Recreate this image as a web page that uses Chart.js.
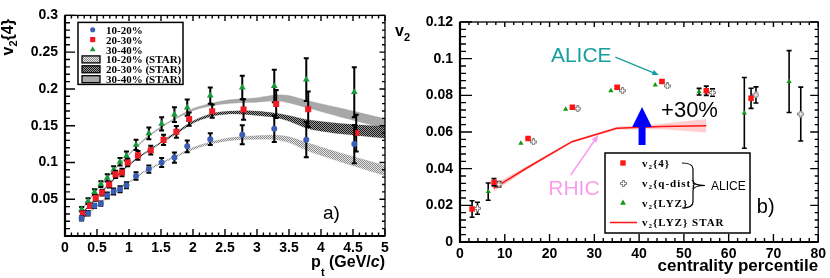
<!DOCTYPE html>
<html>
<head>
<meta charset="utf-8">
<script src="https://cdn.jsdelivr.net/npm/chart.js@4.4.1/dist/chart.umd.min.js"></script>
<style>
  body { margin: 0; background: #fff; }
  #wrap { position: relative; width: 830px; height: 278px; }
  #wrap canvas { position: absolute; top: 0; }
</style>
</head>
<body>
<div id="wrap">
  <canvas id="ptChart" width="400" height="278" style="left:0"></canvas>
  <canvas id="centChart" width="445" height="278" style="left:385px"></canvas>
</div>
<script>
// ---------- panel a) : v2{4} vs pt ----------
var ptAlice    = [0.26, 0.36, 0.46, 0.56, 0.66, 0.76, 0.86, 0.96, 1.11, 1.31, 1.51, 1.71, 1.91, 2.27, 2.77, 3.27, 3.77, 4.52];
var ptAliceRed = [0.28, 0.39, 0.48, 0.58, 0.69, 0.79, 0.89, 0.98, 1.14, 1.34, 1.54, 1.74, 1.94, 2.30, 2.79, 3.30, 3.80, 4.55];

var v2_1020 = [0.024, 0.031, 0.041, 0.044, 0.055, 0.0605, 0.0636, 0.069, 0.0816, 0.091, 0.100, 0.1066, 0.122, 0.1316, 0.1377, 0.146, 0.131, 0.125];
var er_1020 = [0.003, 0.003, 0.003, 0.003, 0.004, 0.004, 0.004, 0.004, 0.005, 0.005, 0.006, 0.007, 0.008, 0.008, 0.013, 0.018, 0.024, 0.026];
var v2_2030 = [0.0307, 0.041, 0.0518, 0.059, 0.070, 0.0838, 0.0864, 0.100, 0.1096, 0.1167, 0.1307, 0.1417, 0.159, 0.1697, 0.172, 0.1794, 0.1724, 0.140];
var er_2030 = [0.003, 0.003, 0.004, 0.004, 0.004, 0.005, 0.005, 0.005, 0.006, 0.006, 0.007, 0.008, 0.009, 0.009, 0.014, 0.019, 0.024, 0.025];
var v2_3040 = [0.0364, 0.0474, 0.0597, 0.0706, 0.079, 0.090, 0.101, 0.1088, 0.124, 0.1395, 0.1526, 0.165, 0.1746, 0.191, 0.202, 0.204, 0.2127, 0.1956];
var er_3040 = [0.003, 0.004, 0.004, 0.004, 0.005, 0.005, 0.005, 0.006, 0.007, 0.008, 0.009, 0.010, 0.011, 0.011, 0.016, 0.022, 0.029, 0.034];

// STAR bands (centre and half width)
var ptStar    = [0.25, 0.5, 0.75, 1.0, 1.25, 1.5, 1.75, 2.0, 2.3, 2.6, 3.0, 3.3, 3.5, 3.8, 4.3, 5.0];
var star_1020 = [0.022, 0.041, 0.059, 0.073, 0.088, 0.099, 0.109, 0.119, 0.127, 0.132, 0.134, 0.134, 0.131, 0.121, 0.107, 0.089];
var sw_1020   = [0.001, 0.001, 0.001, 0.001, 0.001, 0.001, 0.001, 0.0015, 0.0015, 0.002, 0.0025, 0.003, 0.004, 0.0055, 0.006, 0.007];
var star_2030 = [0.029, 0.053, 0.076, 0.097, 0.113, 0.127, 0.141, 0.155, 0.165, 0.168, 0.167, 0.164, 0.160, 0.152, 0.146, 0.141];
var sw_2030   = [0.001, 0.001, 0.001, 0.001, 0.001, 0.001, 0.0015, 0.0015, 0.002, 0.002, 0.003, 0.003, 0.004, 0.006, 0.007, 0.008];
var star_3040 = [0.035, 0.063, 0.088, 0.111, 0.132, 0.148, 0.161, 0.172, 0.179, 0.183, 0.185, 0.188, 0.186, 0.179, 0.168, 0.153];
var sw_3040   = [0.001, 0.001, 0.001, 0.001, 0.001, 0.001, 0.001, 0.0015, 0.002, 0.0025, 0.003, 0.004, 0.005, 0.005, 0.006, 0.0065];

var legendA = ['10-20%', '20-30%', '30-40%', '10-20% (STAR)', '20-30% (STAR)', '30-40% (STAR)'];

// ---------- panel b) : v2 vs centrality ----------
var centV24 = [2.7, 7.6, 15.2, 25.1, 35.1, 45.1, 55.0, 65.0];
var v2_4    = [0.018, 0.0326, 0.0564, 0.0735, 0.0844, 0.0875, 0.0825, 0.0784];
var er_4    = [0.0045, 0.002, 0, 0, 0.0008, 0.0008, 0.0025, 0.0055];
var centQ   = [3.9, 8.7, 16.4, 26.3, 36.3, 46.3, 56.4, 66.1, 76.1];
var v2_q    = [0.0184, 0.0315, 0.0546, 0.0727, 0.0825, 0.0851, 0.0815, 0.0802, 0.0698];
var er_q    = [0.0033, 0.0015, 0, 0, 0, 0, 0.002, 0.0044, 0.0147];
var centLyz = [6.3, 13.6, 23.6, 33.7, 43.6, 53.4, 63.5, 73.5];
var v2_lyz  = [0.0275, 0.0538, 0.0724, 0.0825, 0.0857, 0.082, 0.0704, 0.0875];
var er_lyz  = [0.0047, 0, 0, 0, 0, 0.0018, 0.0193, 0.0169];
var centStar = [7.5, 15, 25, 35, 45, 55];
var v2_star  = [0.0293, 0.0405, 0.0547, 0.062, 0.063, 0.0634];
var sw_star  = [0.002, 0.001, 0.0005, 0.0008, 0.0015, 0.0037];

var legendB = ['{4}', '{q-dist}', '{LYZ}', '{LYZ} STAR'];

var SANS = '"Liberation Sans", Arial, sans-serif';
var SERIF = '"Liberation Serif", "Times New Roman", serif';
var tickFont = { family: 'Liberation Sans', size: 14, weight: 'bold' };

function fmt(v) { return String(Math.round(v * 1000) / 1000); }
function pts(xs, ys) { return xs.map(function (x, i) { return { x: x, y: ys[i] }; }); }
function offs(xs, ys, d, s) { return xs.map(function (x, i) { return { x: x, y: ys[i] + s * d[i] }; }); }

function pattern(dark, light) {
  var c = document.createElement('canvas');
  c.width = 2; c.height = 2;
  var g = c.getContext('2d');
  g.fillStyle = light; g.fillRect(0, 0, 2, 2);
  g.fillStyle = dark; g.fillRect(0, 0, 1, 1); g.fillRect(1, 1, 1, 1);
  return g.createPattern(c, 'repeat');
}

// ROOT style open cross marker
function openCross() {
  var c = document.createElement('canvas');
  c.width = 7; c.height = 7;
  var g = c.getContext('2d'), m = 3.5, L = 3, h = 1;
  g.beginPath();
  g.moveTo(m - h, m - L); g.lineTo(m + h, m - L); g.lineTo(m + h, m - h); g.lineTo(m + L, m - h);
  g.lineTo(m + L, m + h); g.lineTo(m + h, m + h); g.lineTo(m + h, m + L); g.lineTo(m - h, m + L);
  g.lineTo(m - h, m + h); g.lineTo(m - L, m + h); g.lineTo(m - L, m - h); g.lineTo(m - h, m - h);
  g.closePath();
  g.fillStyle = '#fff'; g.fill();
  g.strokeStyle = '#777'; g.lineWidth = 1; g.stroke();
  return c;
}
var crossImg = openCross();

function markers(xs, ys, errs, style, color, r, ew, cap) {
  return {
    data: pts(xs, ys), errors: errs, errWidth: ew, errCap: cap,
    showLine: false, pointStyle: style, pointRadius: r,
    pointBackgroundColor: color, pointBorderColor: color, pointBorderWidth: 0,
    borderColor: color
  };
}

function band(xs, ys, hw, fill, edge) {
  return [
    { data: offs(xs, ys, hw, 1), fill: '+1', backgroundColor: fill, borderColor: edge, borderWidth: 0.4,
      pointRadius: 0, tension: 0.25 },
    { data: offs(xs, ys, hw, -1), fill: false, borderColor: edge, borderWidth: 0.4, pointRadius: 0, tension: 0.25 }
  ];
}

function drawMarker(ctx, style, x, y, r, color) {
  ctx.fillStyle = color;
  ctx.beginPath();
  if (style === 'circle') {
    ctx.arc(x, y, r, 0, 2 * Math.PI);
  } else if (style === 'rect') {
    var s = r * Math.SQRT1_2;
    ctx.rect(x - s, y - s, 2 * s, 2 * s);
  } else {
    ctx.moveTo(x, y - r);
    ctx.lineTo(x + 0.866 * r, y + 0.5 * r);
    ctx.lineTo(x - 0.866 * r, y + 0.5 * r);
    ctx.closePath();
  }
  ctx.fill();
}

// parts: [text, font, dy]
function richText(ctx, parts, x, y, right) {
  var w = 0;
  parts.forEach(function (p) { ctx.font = p[1]; w += ctx.measureText(p[0]).width; });
  var cx = right ? x - w : x;
  parts.forEach(function (p) {
    ctx.font = p[1];
    ctx.fillText(p[0], cx, y + (p[2] || 0));
    cx += ctx.measureText(p[0]).width;
  });
  return w;
}

function arrow(ctx, x0, y0, x1, y1, color, lw, head) {
  var ang = Math.atan2(y1 - y0, x1 - x0);
  ctx.strokeStyle = color; ctx.fillStyle = color; ctx.lineWidth = lw;
  ctx.beginPath();
  ctx.moveTo(x0, y0);
  ctx.lineTo(x1 - head * 0.8 * Math.cos(ang), y1 - head * 0.8 * Math.sin(ang));
  ctx.stroke();
  ctx.beginPath();
  ctx.moveTo(x1, y1);
  ctx.lineTo(x1 - head * Math.cos(ang - 0.38), y1 - head * Math.sin(ang - 0.38));
  ctx.lineTo(x1 - head * Math.cos(ang + 0.38), y1 - head * Math.sin(ang + 0.38));
  ctx.closePath();
  ctx.fill();
}

// ROOT-like frame with inward ticks on all four sides
function framePlugin(cfg) {
  return {
    id: 'frame',
    afterDraw: function (chart) {
      var ctx = chart.ctx, a = chart.chartArea, sx = chart.scales.x, sy = chart.scales.y;
      ctx.save();
      ctx.strokeStyle = '#000';
      ctx.lineWidth = 1.3;
      ctx.strokeRect(a.left, a.top, a.right - a.left, a.bottom - a.top);
      ctx.lineWidth = 2.2;
      ctx.beginPath();
      ctx.moveTo(a.left, a.top); ctx.lineTo(a.left, a.bottom); ctx.lineTo(a.right, a.bottom);
      ctx.stroke();

      ctx.lineWidth = 1.4;
      ctx.beginPath();
      var n = Math.round((sx.max - sx.min) / cfg.xMinor), i, p, big;
      for (i = 0; i <= n; i++) {
        p = sx.getPixelForValue(sx.min + i * cfg.xMinor);
        big = i % 5 === 0;
        ctx.moveTo(p, a.bottom); ctx.lineTo(p, a.bottom - cfg.bottom[big ? 0 : 1]);
        ctx.moveTo(p, a.top); ctx.lineTo(p, a.top + cfg.top[big ? 0 : 1]);
      }
      n = Math.round((sy.max - sy.min) / cfg.yMinor);
      for (i = 0; i <= n; i++) {
        p = sy.getPixelForValue(sy.min + i * cfg.yMinor);
        big = i % 5 === 0;
        ctx.moveTo(a.left, p); ctx.lineTo(a.left + cfg.left[big ? 0 : 1], p);
        ctx.moveTo(a.right, p); ctx.lineTo(a.right - cfg.right[big ? 0 : 1], p);
      }
      ctx.stroke();
      ctx.restore();
    }
  };
}

var errorBarPlugin = {
  id: 'errorBars',
  beforeDatasetDraw: function (chart, args) {
    var ds = chart.data.datasets[args.index];
    if (!ds.errors) return;
    var ctx = chart.ctx, sy = chart.scales.y;
    ctx.save();
    ctx.strokeStyle = '#000';
    ctx.lineWidth = ds.errWidth;
    args.meta.data.forEach(function (el, i) {
      var e = ds.errors[i];
      if (!e) return;
      var v = ds.data[i].y;
      var y0 = sy.getPixelForValue(v - e), y1 = sy.getPixelForValue(v + e);
      ctx.beginPath();
      ctx.moveTo(el.x, y0); ctx.lineTo(el.x, y1);
      ctx.moveTo(el.x - ds.errCap, y0); ctx.lineTo(el.x + ds.errCap, y0);
      ctx.moveTo(el.x - ds.errCap, y1); ctx.lineTo(el.x + ds.errCap, y1);
      ctx.stroke();
    });
    ctx.restore();
  }
};

function baseOptions(xMin, xMax, xStep, yMin, yMax, yStep, yw, xh, pad, hideZero) {
  return {
    responsive: false,
    animation: false,
    events: [],
    layout: { padding: pad },
    plugins: { legend: { display: false }, tooltip: { enabled: false } },
    scales: {
      x: {
        type: 'linear', min: xMin, max: xMax,
        afterFit: function (s) { s.height = xh; },
        grid: { display: false, drawTicks: false }, border: { display: false },
        ticks: { stepSize: xStep, padding: 4, font: tickFont, color: '#000', maxRotation: 0, autoSkip: false, callback: fmt }
      },
      y: {
        type: 'linear', min: yMin, max: yMax,
        afterFit: function (s) { s.width = yw; },
        grid: { display: false, drawTicks: false }, border: { display: false },
        ticks: {
          stepSize: yStep, padding: 7, font: tickFont, color: '#000', autoSkip: false,
          callback: function (v) { return (hideZero && v === 0) ? '' : fmt(v); }
        }
      }
    }
  };
}

// ---------------- chart a) ----------------
var ctxA = document.getElementById('ptChart').getContext('2d');
var colorsA = ['#3b5db3', '#ee1c25', '#179a3a'];
var stylesA = ['circle', 'rect', 'triangle'];
var radiiA  = [3, 4.3, 3.9];
var fillsA  = [pattern('#8a8a8a', '#e6e6e6'), pattern('#1a1a1a', '#9a9a9a'), '#a8a8a8'];

var decoA = {
  id: 'decoA',
  afterDatasetsDraw: function (chart) {
    var ctx = chart.ctx, a = chart.chartArea, sx = chart.scales.x, sy = chart.scales.y;
    ctx.save();
    ctx.textAlign = 'left';
    ctx.textBaseline = 'alphabetic';

    // legend
    var bx = a.left + 13, by = a.top + 7;
    ctx.fillStyle = '#fff'; ctx.fillRect(bx, by, 105, 62);
    ctx.strokeStyle = '#000'; ctx.lineWidth = 1.5; ctx.strokeRect(bx, by, 105, 62);
    for (var i = 0; i < legendA.length; i++) {
      var ry = by + 7.3 + 9.9 * i;
      if (i < 3) {
        drawMarker(ctx, stylesA[i], bx + 14.7, ry, radiiA[i] * 0.85, colorsA[i]);
      } else {
        ctx.fillStyle = fillsA[i - 3];
        ctx.fillRect(bx + 4, ry - 3.5, 18, 7);
        ctx.lineWidth = 1.3; ctx.strokeStyle = '#000';
        ctx.strokeRect(bx + 4, ry - 3.5, 18, 7);
      }
      ctx.fillStyle = '#000';
      ctx.font = 'bold 11px ' + SERIF;
      ctx.fillText(legendA[i], bx + 28, ry + 4);
    }

    // panel label
    ctx.font = '19px ' + SANS;
    ctx.fillText('a)', sx.getPixelForValue(4.03), sy.getPixelForValue(0.0237));

    // x title: pt (GeV/c)
    richText(ctx, [
      ['p', 'bold 16px ' + SANS],
      ['t', 'bold 11px ' + SANS, 9],
      [' (GeV/', 'bold 16px ' + SANS],
      ['c', 'italic bold 16px ' + SANS],
      [')', 'bold 16px ' + SANS]
    ], a.right, a.bottom + 30.5, true);

    // y title: v2{4}, rotated
    ctx.translate(a.left - 52, a.top + 40);
    ctx.rotate(-Math.PI / 2);
    richText(ctx, [
      ['v', 'bold 16px ' + SANS],
      ['2', 'bold 11px ' + SANS, 4],
      ['{4}', 'bold 16px ' + SANS]
    ], 0, 0, false);
    ctx.restore();
  }
};

var dsA = [
  markers(ptAlice, v2_1020, er_1020, stylesA[0], colorsA[0], radiiA[0], 2, 2.5),
  markers(ptAliceRed, v2_2030, er_2030, stylesA[1], colorsA[1], radiiA[1], 2, 2.5),
  markers(ptAlice, v2_3040, er_3040, stylesA[2], colorsA[2], radiiA[2], 2, 2.5)
].concat(
  band(ptStar, star_1020, sw_1020, fillsA[0], 'rgba(120,120,120,0.5)'),
  band(ptStar, star_2030, sw_2030, fillsA[1], 'rgba(70,70,70,0.5)'),
  band(ptStar, star_3040, sw_3040, fillsA[2], 'rgba(160,160,160,0.7)')
);

var optsA = baseOptions(0, 5, 0.5, 0, 0.3, 0.05, 65, 42, { left: 0, right: 15, top: 8, bottom: 0 }, true);

var chartA = new Chart(ctxA, {
  type: 'line',
  data: { datasets: dsA },
  options: optsA,
  plugins: [errorBarPlugin, decoA,
    framePlugin({ xMinor: 0.1, yMinor: 0.01, bottom: [7, 3.5], top: [5.5, 3], left: [10, 5], right: [5.5, 3] })]
});

// ---------------- chart b) ----------------
var ctxB = document.getElementById('centChart').getContext('2d');
var RED = '#ff1414', GREEN = '#129912';

var decoB = {
  id: 'decoB',
  afterDatasetsDraw: function (chart) {
    var ctx = chart.ctx, a = chart.chartArea, sx = chart.scales.x, sy = chart.scales.y;
    var X = function (v) { return sx.getPixelForValue(v); };
    var Y = function (v) { return sy.getPixelForValue(v); };
    ctx.save();
    ctx.textAlign = 'left';
    ctx.textBaseline = 'alphabetic';

    // ALICE label + arrow
    ctx.fillStyle = '#179f9f';
    ctx.font = '21px ' + SANS;
    ctx.fillText('ALICE', X(20.3), Y(0.0982));
    arrow(ctx, X(34.7), Y(0.1008), X(44.4), Y(0.0911), '#179f9f', 1.3, 7);

    // big blue arrow
    var cx = X(40.66), hw = X(40.66 + 2.2) - cx, sw = X(40.66 + 0.78) - cx;
    ctx.fillStyle = '#0000ff';
    ctx.beginPath();
    ctx.moveTo(cx, Y(0.0736));
    ctx.lineTo(cx + hw, Y(0.0627)); ctx.lineTo(cx + sw, Y(0.0627));
    ctx.lineTo(cx + sw, Y(0.0529)); ctx.lineTo(cx - sw, Y(0.0529));
    ctx.lineTo(cx - sw, Y(0.0627)); ctx.lineTo(cx - hw, Y(0.0627));
    ctx.closePath();
    ctx.fill();

    ctx.fillStyle = '#000';
    ctx.font = '22px ' + SANS;
    ctx.fillText('+30%', X(44.9), Y(0.0682));

    // RHIC label + arrow
    ctx.fillStyle = '#fb9cf0';
    ctx.font = '21px ' + SANS;
    ctx.fillText('RHIC', X(19.7), Y(0.0258));
    arrow(ctx, X(24.7), Y(0.0365), X(30.9), Y(0.0584), '#fb9cf0', 1.6, 8);

    // panel label
    ctx.fillStyle = '#000';
    ctx.font = '20px ' + SANS;
    ctx.fillText('b)', X(66.3), Y(0.0158));

    // legend
    var bx = a.left + 145, by = a.top + 131;
    ctx.fillStyle = '#fff'; ctx.fillRect(bx, by, 145, 80);
    ctx.strokeStyle = '#000'; ctx.lineWidth = 1.5; ctx.strokeRect(bx, by, 145, 80);
    var rows = [by + 10, by + 30, by + 50, by + 69.5];
    drawMarker(ctx, 'rect', bx + 18, rows[0], 3.8, RED);
    ctx.drawImage(crossImg, Math.round(bx + 18 - 3.5), Math.round(rows[1] - 3.5));
    drawMarker(ctx, 'triangle', bx + 18, rows[2], 3.4, GREEN);
    ctx.strokeStyle = RED; ctx.lineWidth = 1.5;
    ctx.beginPath(); ctx.moveTo(bx + 5, rows[3]); ctx.lineTo(bx + 32, rows[3]); ctx.stroke();
    ctx.fillStyle = '#000';
    ctx.letterSpacing = '1px';
    for (var i = 0; i < legendB.length; i++) {
      richText(ctx, [
        ['v', 'bold 11px ' + SERIF],
        ['2', 'bold 7px ' + SERIF, 2],
        [legendB[i], 'bold 11px ' + SERIF]
      ], bx + 37, rows[i] + 3.5, false);
    }
    ctx.letterSpacing = '0px';

    // brace grouping the ALICE entries
    var b0 = bx + 77, b1 = bx + 88, b2 = bx + 100, t0 = rows[0], t1 = rows[2] + 5, tm = (t0 + t1) / 2;
    ctx.strokeStyle = '#000'; ctx.lineWidth = 1.2;
    ctx.beginPath();
    ctx.moveTo(b0, t0);
    ctx.quadraticCurveTo(b1, t0, b1, t0 + 6);
    ctx.lineTo(b1, tm - 5);
    ctx.quadraticCurveTo(b1, tm, b2, tm);
    ctx.quadraticCurveTo(b1, tm, b1, tm + 5);
    ctx.lineTo(b1, t1 - 6);
    ctx.quadraticCurveTo(b1, t1, b0, t1);
    ctx.stroke();
    ctx.font = '12px ' + SANS;
    ctx.fillText('ALICE', b2 + 6, tm + 4);

    // x title
    ctx.font = 'bold 17px ' + SANS;
    ctx.textAlign = 'right';
    ctx.fillText('centrality percentile', a.right, a.bottom + 29);
    ctx.textAlign = 'left';

    // y title v2
    richText(ctx, [
      ['v', 'bold 16px ' + SANS],
      ['2', 'bold 11px ' + SANS, 5]
    ], a.left - 65, a.top + 14, false);
    ctx.restore();
  }
};

var dsB = [
  markers(centV24, v2_4, er_4, 'rect', RED, 3.9, 1.6, 2.5),
  markers(centQ, v2_q, er_q, crossImg, '#777', 3.5, 1.6, 2.5),
  markers(centLyz, v2_lyz, er_lyz, 'triangle', GREEN, 3, 1.6, 2.5),
  { data: pts(centStar, v2_star), borderColor: RED, borderWidth: 1.5, pointRadius: 0, fill: false }
].concat(band(centStar, v2_star, sw_star, 'rgba(255,120,120,0.35)', 'rgba(0,0,0,0)'));
dsB[4].tension = 0; dsB[5].tension = 0;

var optsB = baseOptions(0, 80, 10, 0, 0.12, 0.02, 75, 36, { left: 0, right: 8, top: 22, bottom: 0 }, false);

var chartB = new Chart(ctxB, {
  type: 'line',
  data: { datasets: dsB },
  options: optsB,
  plugins: [errorBarPlugin, decoB,
    framePlugin({ xMinor: 2, yMinor: 0.004, bottom: [8, 4], top: [5, 3], left: [12, 6], right: [8, 3.5] })]
});
</script>
</body>
</html>
